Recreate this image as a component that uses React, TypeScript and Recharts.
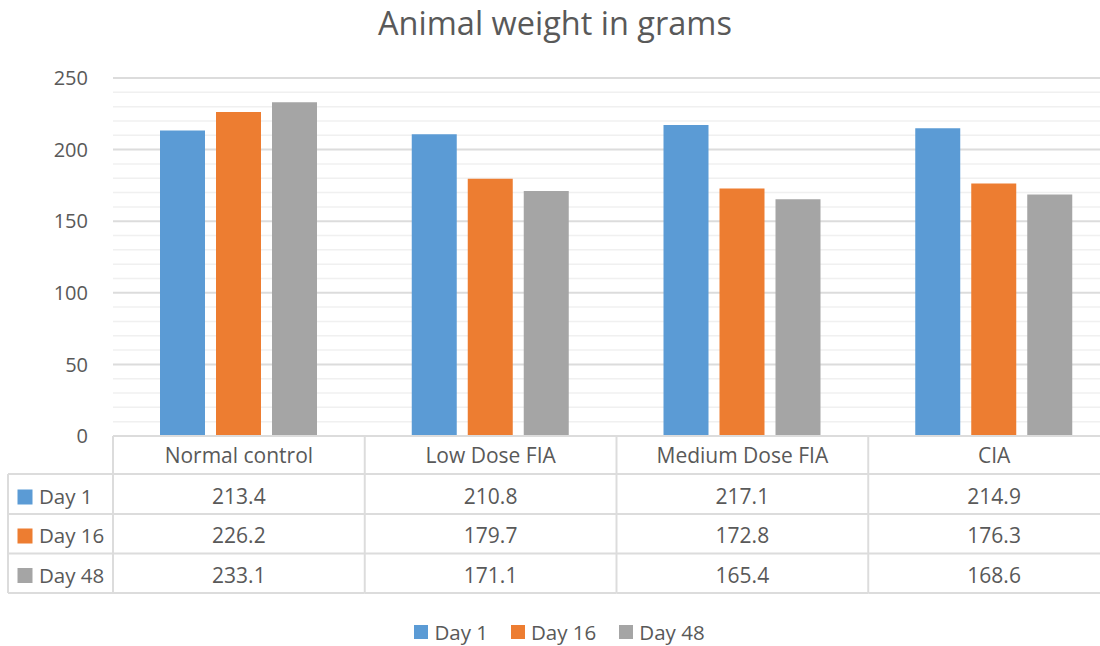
import React from 'react';
import { BarChart, Bar, XAxis, YAxis, CartesianGrid, Legend } from 'recharts';

const categories = ['Normal control', 'Low Dose FIA', 'Medium Dose FIA', 'CIA'];
const day1 = [213.4, 210.8, 217.1, 214.9];
const day16 = [226.2, 179.7, 172.8, 176.3];
const day48 = [233.1, 171.1, 165.4, 168.6];
const seriesNames = ['Day 1', 'Day 16', 'Day 48'];
const seriesKeys = ['d1', 'd16', 'd48'];
const seriesColors = ['#5B9BD5', '#ED7D31', '#A5A5A5'];
const seriesValues = [day1, day16, day48];
const yTicks = [0, 50, 100, 150, 200, 250];
const yDomain = [0, 250];
const minorTicks = [10, 20, 30, 40, 60, 70, 80, 90, 110, 120, 130, 140, 160, 170, 180, 190, 210, 220, 230, 240];

const data = categories.map((name, i) => ({
  name,
  d1: day1[i],
  d16: day16[i],
  d48: day48[i],
}));

const FONT = "'Open Sans', 'Noto Sans', sans-serif";
const TEXT = '#595959';
const LINE = '#dcdcdc';

const W = 1120;
const H = 646;
const MARGIN = { top: 78, right: 0, bottom: 53, left: 0 };
const Y_W = 113;
const X_H = 157;
const PLOT_W = W - MARGIN.left - MARGIN.right - Y_W;
const CELL_W = PLOT_W / categories.length;
const TOP = H - MARGIN.bottom - X_H; // 436
const ROW_LINES = [TOP + 38, TOP + 78, TOP + 117.5, TOP + 157];
const HEADER_BASE = TOP + 27;
const ROW_BASES = [TOP + 68, TOP + 107, TOP + 146.5];
const LEFT_EDGE = 8;

const minorGen = (args: any) => {
  const yAxis = args && args.yAxis;
  if (yAxis && typeof yAxis.scale === 'function') {
    return minorTicks.map((v) => yAxis.scale(v));
  }
  const off = (args && args.offset) || { top: MARGIN.top, height: TOP - MARGIN.top };
  return minorTicks.map(
    (v) => off.top + off.height * (1 - (v - yDomain[0]) / (yDomain[1] - yDomain[0]))
  );
};

const TableTick = (props: any) => {
  const { x, payload, index } = props;
  const colLeft = x - CELL_W / 2;
  const colRight = x + CELL_W / 2;
  const idx = payload && typeof payload.index === 'number' ? payload.index : index;
  const bottom = ROW_LINES[ROW_LINES.length - 1];
  return (
    <g>
      <line x1={colLeft} x2={colRight} y1={TOP} y2={TOP} stroke={LINE} strokeWidth={2} />
      {ROW_LINES.map((ly, k) => (
        <line key={k} x1={colLeft} x2={colRight} y1={ly} y2={ly} stroke={LINE} strokeWidth={2} />
      ))}
      <line x1={colLeft} x2={colLeft} y1={TOP} y2={bottom} stroke={LINE} strokeWidth={2} />
      {idx === categories.length - 1 && (
        <line x1={colRight} x2={colRight} y1={TOP} y2={bottom} stroke={LINE} strokeWidth={2} />
      )}
      <text x={x} y={HEADER_BASE} textAnchor="middle" fill={TEXT} fontSize={21} fontFamily={FONT}>
        {payload.value}
      </text>
      {seriesValues.map((vals, s) => (
        <text key={s} x={x} y={ROW_BASES[s]} textAnchor="middle" fill={TEXT} fontSize={21} fontFamily={FONT}>
          {vals[idx].toFixed(1)}
        </text>
      ))}
      {idx === 0 && (
        <g>
          {ROW_LINES.map((ly, k) => (
            <line key={k} x1={LEFT_EDGE} x2={colLeft} y1={ly} y2={ly} stroke={LINE} strokeWidth={2} />
          ))}
          <line x1={LEFT_EDGE} x2={LEFT_EDGE} y1={ROW_LINES[0]} y2={bottom} stroke={LINE} strokeWidth={2} />
          {seriesNames.map((nm, s) => (
            <g key={s}>
              <rect x={17.5} y={ROW_BASES[s] - 14.5} width={15} height={15} fill={seriesColors[s]} />
              <text x={39} y={ROW_BASES[s]} fill={TEXT} fontSize={20.5} fontFamily={FONT} textAnchor="start">
                {nm}
              </text>
            </g>
          ))}
        </g>
      )}
    </g>
  );
};

const LegendContent = () => (
  <div
    style={{
      display: 'flex',
      justifyContent: 'center',
      alignItems: 'center',
      fontFamily: FONT,
      fontSize: 20.5,
      color: TEXT,
      lineHeight: '26px',
    }}
  >
    {seriesNames.map((nm, s) => (
      <div key={s} style={{ display: 'flex', alignItems: 'center', marginRight: s < seriesNames.length - 1 ? 23 : 0 }}>
        <span style={{ display: 'inline-block', width: 14, height: 14, background: seriesColors[s], marginRight: 6 }} />
        <span>{nm}</span>
      </div>
    ))}
  </div>
);

export default function App() {
  return (
    <div
      style={{
        position: 'absolute',
        left: 0,
        top: 0,
        width: 1100,
        height: 646,
        overflow: 'hidden',
        background: '#ffffff',
        fontFamily: FONT,
      }}
    >
      <svg style={{ position: 'absolute', left: 0, top: 0, zIndex: 2, overflow: 'visible' }} width={1100} height={60}>
        <text x={555} y={34.5} textAnchor="middle" fill={TEXT} fontSize={32.5} fontFamily={FONT}>
          Animal weight in grams
        </text>
      </svg>
      <BarChart width={W} height={H} data={data} margin={MARGIN} barSize={45} barGap={11}>
        <CartesianGrid
          vertical={false}
          stroke="#f0f0f0"
          strokeWidth={1.5}
          horizontalCoordinatesGenerator={minorGen}
        />
        <CartesianGrid vertical={false} stroke={LINE} strokeWidth={2} />
        <XAxis
          dataKey="name"
          height={X_H}
          axisLine={false}
          tickLine={false}
          tickSize={0}
          tickMargin={0}
          interval={0}
          tick={TableTick}
        />
        <YAxis
          width={Y_W}
          domain={yDomain}
          ticks={yTicks}
          axisLine={false}
          tickLine={false}
          tickSize={0}
          tickMargin={25}
          tick={{ fill: TEXT, fontSize: 20, fontFamily: FONT }}
        />
        <Legend
          verticalAlign="middle"
          align="center"
          wrapperStyle={{ top: 619, left: 0, width: W - 1 }}
          content={<LegendContent />}
        />
        {seriesKeys.map((k, s) => (
          <Bar key={k} dataKey={k} name={seriesNames[s]} fill={seriesColors[s]} isAnimationActive={false} />
        ))}
      </BarChart>
    </div>
  );
}
